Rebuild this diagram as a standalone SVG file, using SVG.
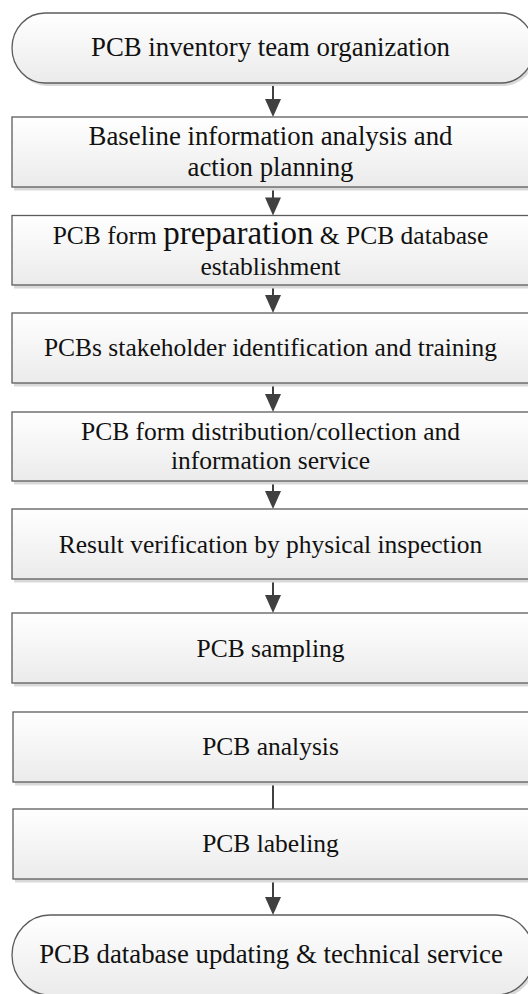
<svg xmlns="http://www.w3.org/2000/svg" width="528" height="994" viewBox="0 0 528 994">
<style>
  .box { fill: url(#g); stroke: #5c5c5c; stroke-width: 1.3; }
  .sh { fill: #d9d9d9; }
  .t { font-family: "Liberation Serif", "Times New Roman", serif; fill: #111; text-anchor: middle; font-size: 25.5px; }
  .big { font-size: 26.8px; }
  .c { stroke: #404040; stroke-width: 2; fill: none; }
</style>
<defs>
  <linearGradient id="g" x1="0" y1="0" x2="0" y2="1">
    <stop offset="0" stop-color="#ffffff"/>
    <stop offset="1" stop-color="#ebebeb"/>
  </linearGradient>
  <marker id="ah" markerUnits="userSpaceOnUse" markerWidth="18" markerHeight="20" viewBox="0 0 18 20" refX="9" refY="20" orient="auto-start-reverse">
    <path d="M0,0 L18,0 L9,20 Z" fill="#404040" transform="rotate(0)"/>
  </marker>
</defs>

<g id="connectors">
  <line class="c" x1="273" y1="83" x2="273" y2="99"/>
  <path d="M265,99 L281,99 L273,117 Z" fill="#404040"/>
  <line class="c" x1="273" y1="187" x2="273" y2="198"/>
  <path d="M265,197.5 L281,197.5 L273,215.5 Z" fill="#404040"/>
  <line class="c" x1="273" y1="285" x2="273" y2="296"/>
  <path d="M265,295 L281,295 L273,313 Z" fill="#404040"/>
  <line class="c" x1="273" y1="383" x2="273" y2="395"/>
  <path d="M265,394 L281,394 L273,412 Z" fill="#404040"/>
  <line class="c" x1="273" y1="481" x2="273" y2="492"/>
  <path d="M265,491 L281,491 L273,509 Z" fill="#404040"/>
  <line class="c" x1="273" y1="579" x2="273" y2="596"/>
  <path d="M265,595 L281,595 L273,613 Z" fill="#404040"/>
  <line class="c" x1="273" y1="782" x2="273" y2="809"/>
  <line class="c" x1="273" y1="879" x2="273" y2="898"/>
  <path d="M265,897 L281,897 L273,915 Z" fill="#404040"/>
</g>

<g id="n1">
  <rect class="sh" x="14" y="16" width="522" height="70" rx="33" ry="35"/>
  <rect class="box" x="12" y="13" width="522" height="70" rx="33" ry="35"/>
  <text class="t big" x="270.5" y="55.7">PCB inventory team organization</text>
</g>

<g id="n2">
  <rect class="sh" x="14" y="120.5" width="522" height="70"/>
  <rect class="box" x="12" y="117" width="522" height="70"/>
  <text class="t big" x="270.5" y="145">Baseline information analysis and</text>
  <text class="t big" x="270.5" y="176">action planning</text>
</g>

<g id="n3">
  <rect class="sh" x="14" y="219" width="522" height="69.5"/>
  <rect class="box" x="12" y="215.5" width="522" height="69.5"/>
  <text class="t" x="270.5" y="244.3">PCB form <tspan font-size="33px">preparation</tspan> &amp; PCB database</text>
  <text class="t" x="270.5" y="275">establishment</text>
</g>

<g id="n4">
  <rect class="sh" x="14" y="316.5" width="522" height="70"/>
  <rect class="box" x="12" y="313" width="522" height="70"/>
  <text class="t" x="270.5" y="355.7">PCBs stakeholder identification and training</text>
</g>

<g id="n5">
  <rect class="sh" x="14" y="415.5" width="522" height="69"/>
  <rect class="box" x="12" y="412" width="522" height="69"/>
  <text class="t" x="270.5" y="439.5">PCB form distribution/collection and</text>
  <text class="t" x="270.5" y="468.5">information service</text>
</g>

<g id="n6">
  <rect class="sh" x="14" y="512.5" width="522" height="70"/>
  <rect class="box" x="12" y="509" width="522" height="70"/>
  <text class="t" x="270.5" y="552.7">Result verification by physical inspection</text>
</g>

<g id="n7">
  <rect class="sh" x="14" y="616.5" width="522" height="70"/>
  <rect class="box" x="12" y="613" width="522" height="70"/>
  <text class="t" x="270.5" y="656.7">PCB sampling</text>
</g>

<g id="n8">
  <rect class="sh" x="15" y="715.5" width="522" height="70"/>
  <rect class="box" x="13" y="712" width="522" height="70"/>
  <text class="t" x="270.5" y="755">PCB analysis</text>
</g>

<g id="n9">
  <rect class="sh" x="15" y="812.5" width="522" height="70"/>
  <rect class="box" x="13" y="809" width="522" height="70"/>
  <text class="t" x="270.5" y="851.7">PCB labeling</text>
</g>

<g id="n10">
  <rect class="sh" x="14" y="918" width="522" height="80" rx="38" ry="40"/>
  <rect class="box" x="12" y="915" width="522" height="80" rx="38" ry="40"/>
  <text class="t big" x="271" y="963">PCB database updating &amp; technical service</text>
</g>
</svg>
